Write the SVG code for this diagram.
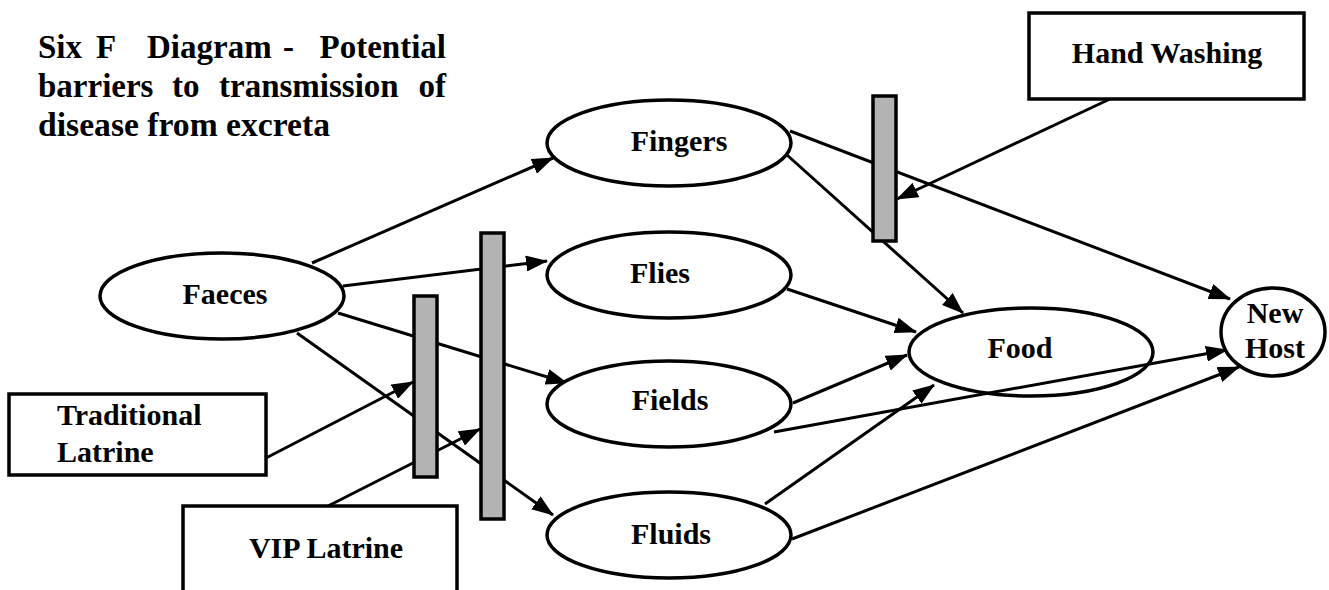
<svg xmlns="http://www.w3.org/2000/svg" width="1329" height="590" viewBox="0 0 1329 590">
<style>
  .lbl { font-family: "Liberation Serif", "DejaVu Serif", "Times New Roman", serif; font-weight: 700; font-size: 30px; fill: #000; }
  .ttl { font-family: "Liberation Serif", "DejaVu Serif", "Times New Roman", serif; font-weight: 700; font-size: 33px; fill: #000; }
  .node { fill: #fff; stroke: #000; stroke-width: 3.5; }
  .bar { fill: #b3b3b3; stroke: #000; stroke-width: 3.5; }
  .conn line { stroke: #000; stroke-width: 3; marker-end: url(#arr); }
</style>
<defs>
  <marker id="arr" markerUnits="userSpaceOnUse" markerWidth="22" markerHeight="16" refX="21" refY="8" orient="auto">
    <path d="M0,0 L22,8 L0,16 z" fill="#000"/>
  </marker>
</defs>
<rect width="1329" height="590" fill="#fff"/>

<g id="title">
  <text class="ttl" y="58"><tspan x="38">Six</tspan><tspan x="96">F</tspan><tspan x="147">Diagram</tspan><tspan x="283">-</tspan><tspan x="446" text-anchor="end">Potential</tspan></text>
  <text class="ttl" y="97"><tspan x="38">barriers</tspan><tspan x="172">to</tspan><tspan x="219">transmission</tspan><tspan x="446" text-anchor="end">of</tspan></text>
  <text class="ttl" y="136" x="38" textLength="292" lengthAdjust="spacingAndGlyphs">disease from excreta</text>
</g>

<g id="connectors" class="conn">
  <line x1="312" y1="263" x2="553" y2="158"/>
  <line x1="343" y1="286" x2="547" y2="261"/>
  <line x1="338" y1="313" x2="567" y2="383"/>
  <line x1="297" y1="333" x2="553" y2="515"/>
  <line x1="266" y1="458" x2="413" y2="382"/>
  <line x1="328" y1="506" x2="480" y2="429"/>
  <line x1="790" y1="131" x2="1230" y2="299"/>
  <line x1="787" y1="155" x2="963" y2="313"/>
  <line x1="1110" y1="99" x2="897" y2="199"/>
  <line x1="787" y1="289" x2="916" y2="332"/>
  <line x1="793" y1="403" x2="907" y2="355"/>
  <line x1="774" y1="432" x2="1227" y2="350"/>
  <line x1="765" y1="504" x2="934" y2="385"/>
  <line x1="792" y1="539" x2="1239" y2="367"/>
</g>

<g id="barrier-handwashing"><rect class="bar" x="873" y="96" width="23" height="145"/></g>
<g id="barrier-vip"><rect class="bar" x="481" y="233" width="23" height="286"/></g>
<g id="barrier-traditional"><rect class="bar" x="414" y="296" width="23" height="181"/></g>

<g id="faeces">
  <ellipse class="node" cx="222" cy="296" rx="122" ry="43"/>
  <text class="lbl" x="225" y="304" text-anchor="middle">Faeces</text>
</g>
<g id="fingers">
  <ellipse class="node" cx="669" cy="143" rx="122" ry="43"/>
  <text class="lbl" x="679" y="151" text-anchor="middle">Fingers</text>
</g>
<g id="flies">
  <ellipse class="node" cx="669" cy="275" rx="122" ry="43"/>
  <text class="lbl" x="660" y="283" text-anchor="middle">Flies</text>
</g>
<g id="fields">
  <ellipse class="node" cx="669" cy="404" rx="122" ry="43"/>
  <text class="lbl" x="670" y="410" text-anchor="middle">Fields</text>
</g>
<g id="fluids">
  <ellipse class="node" cx="669" cy="535" rx="122" ry="43"/>
  <text class="lbl" x="671" y="544" text-anchor="middle">Fluids</text>
</g>
<g id="food">
  <ellipse class="node" cx="1031" cy="352" rx="122" ry="44" style="fill:none"/>
  <text class="lbl" x="1020" y="358" text-anchor="middle">Food</text>
</g>
<g id="new-host">
  <ellipse class="node" cx="1273" cy="332" rx="52" ry="44"/>
  <text class="lbl" x="1275" y="323" text-anchor="middle">New</text>
  <text class="lbl" x="1275" y="358" text-anchor="middle">Host</text>
</g>
<g id="hand-washing">
  <rect class="node" x="1029" y="13" width="275" height="86"/>
  <text class="lbl" x="1167" y="63" text-anchor="middle">Hand Washing</text>
</g>
<g id="traditional-latrine">
  <rect class="node" x="9" y="394" width="257" height="81"/>
  <text class="lbl" x="57" y="425">Traditional</text>
  <text class="lbl" x="57" y="462">Latrine</text>
</g>
<g id="vip-latrine">
  <rect class="node" x="183" y="506" width="274" height="100"/>
  <text class="lbl" x="326" y="558" text-anchor="middle">VIP Latrine</text>
</g>
</svg>
